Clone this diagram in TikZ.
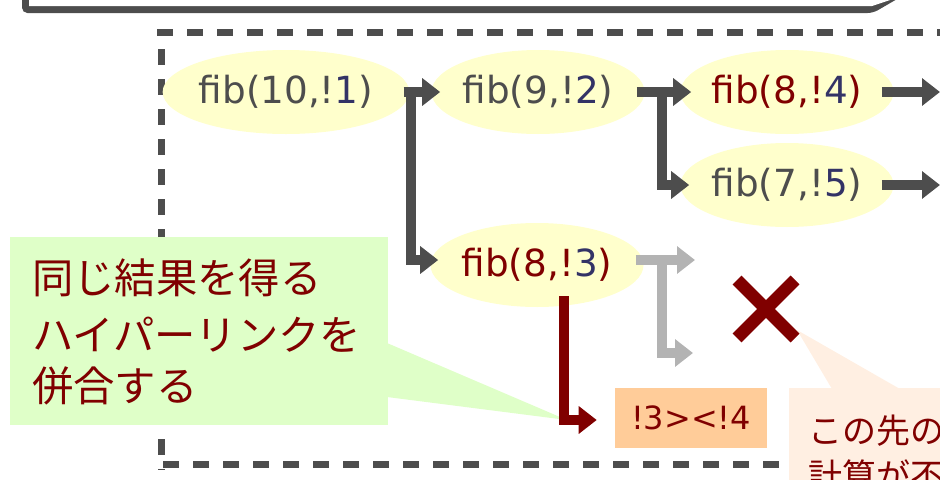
\documentclass[tikz,border=0pt]{standalone}
\usepackage{fontspec}
\setmainfont{DejaVu Sans}
\newfontfamily\jpfont{Noto Sans CJK JP}
\usetikzlibrary{arrows.meta,shapes.geometric,calc}
\definecolor{dgray}{HTML}{4D4D4D}
\definecolor{dred}{HTML}{800000}
\definecolor{navy}{HTML}{333366}
\definecolor{lgray}{HTML}{B3B3B3}
\definecolor{ellfill}{HTML}{FFFFCC}
\definecolor{greenfill}{HTML}{DFFFC8}
\definecolor{orangefill}{HTML}{FFCC99}
\definecolor{peachfill}{HTML}{FFEFE2}
\begin{document}
\begin{tikzpicture}[x=0.75pt,y=-0.75pt,
  fibnode/.style={ellipse, fill=ellfill, minimum width=151.5pt, minimum height=63pt, inner sep=0pt, font=\fontsize{28pt}{33pt}\selectfont},
  darr/.style={draw=dgray, line width=7.5pt, line join=miter, -{Triangle[length=13.5pt,width=20pt]}},
  garr/.style={draw=lgray, line width=7.5pt, line join=miter, -{Triangle[length=13.5pt,width=20pt]}},
  rarr/.style={draw=dred, line width=7.5pt, line join=miter, -{Triangle[length=13.5pt,width=20pt]}},
  dashline/.style={draw=dgray, line width=5.25pt, dash pattern=on 12pt off 10.5pt},
  jtextg/.style={font=\jpfont\fontsize{31pt}{40pt}\selectfont, text=dred, inner sep=0pt, anchor=base west},
  jtextp/.style={font=\jpfont\fontsize{25.5pt}{33pt}\selectfont, text=dred, inner sep=0pt, anchor=base west}]
\useasboundingbox (0,0) rectangle (940,479);
\clip (0,0) rectangle (940,479);

% top box (cut off)
\fill[dgray, rounded corners=4pt] (22,-20) -- (22,13) -- (873,13) -- (930,-20) -- cycle;
\fill[white] (29,-20) -- (29,6) -- (872,6) -- (950,-20) -- cycle;

% dashed frame
\draw[dashline] (157,32) -- (960,32);
\draw[dashline] (161,49) -- (161,470);
\draw[dashline] (163,464) -- (960,464);

% green callout
\fill[greenfill] (10,237) rectangle (388,425);
\fill[greenfill] (387,343) -- (567,420) -- (387,397) -- cycle;
\node[jtextg] (gl1) at (32,293) {同じ結果を得る};
\node[jtextg] (gl2) at (32,350) {ハイパーリンクを};
\node[jtextg] (gl3) at (32,401) {併合する};

% peach callout
\fill[peachfill] (789,388) rectangle (960,500);
\fill[peachfill] (832,389) -- (797,330) -- (900,389) -- cycle;
\node[jtextp] (pl1) at (808,443) {この先の};
\node[jtextp] (pl2) at (808,488) {計算が不};

% nodes
\node[fibnode, text=dgray] (n1) at (286,92) {fib(10,!\textcolor{navy}{1})};
\node[fibnode, text=dgray] (n2) at (538,92) {fib(9,!\textcolor{navy}{2})};
\node[fibnode, text=dred] (n3) at (787,92) {fib(8,!\textcolor{navy}{4})};
\node[fibnode, text=dgray] (n4) at (787,185) {fib(7,!\textcolor{navy}{5})};
\node[fibnode, text=dred] (n5) at (537,265) {fib(8,!\textcolor{navy}{3})};
\node[fill=orangefill, text=dred, minimum width=114pt, minimum height=45pt, inner sep=0pt, font=\fontsize{24pt}{29pt}\selectfont] (box) at (691,418) {!3><!4};

% dark arrows
\coordinate (b1) at (411,92);
\coordinate (b2) at (662,92);
\coordinate (e1) at (940,92);
\coordinate (e2) at (940,185);
\draw[darr] ($(n1.east)+(-6,0)$) -- ($(n2.west)+(9,0)$);
\draw[darr] (b1) |- ($(n5.west)+(8,-5)$);
\draw[darr] ($(n2.east)+(-8,0)$) -- ($(n3.west)+(11,0)$);
\draw[darr] (b2) |- ($(n4.west)+(9,0)$);
\draw[darr] ($(n3.east)+(-12,0)$) -- (e1);
\draw[darr] ($(n4.east)+(-12,0)$) -- (e2);

% gray arrows
\coordinate (g0) at (662,260);
\coordinate (g1) at (695,260);
\coordinate (g2) at (693,353);
\draw[garr] ($(n5.east)+(-8,-5)$) -- (g1);
\draw[garr] (g0) |- (g2);

% red arrow
\draw[rarr] ($(n5.south)+(27,-11)$) |- ($(box.west)+(-18,2)$);

% cross
\draw[dred, line width=9.5pt] (737,280) -- (795,338);
\draw[dred, line width=9.5pt] (737,338) -- (795,280);
\end{tikzpicture}
\end{document}
